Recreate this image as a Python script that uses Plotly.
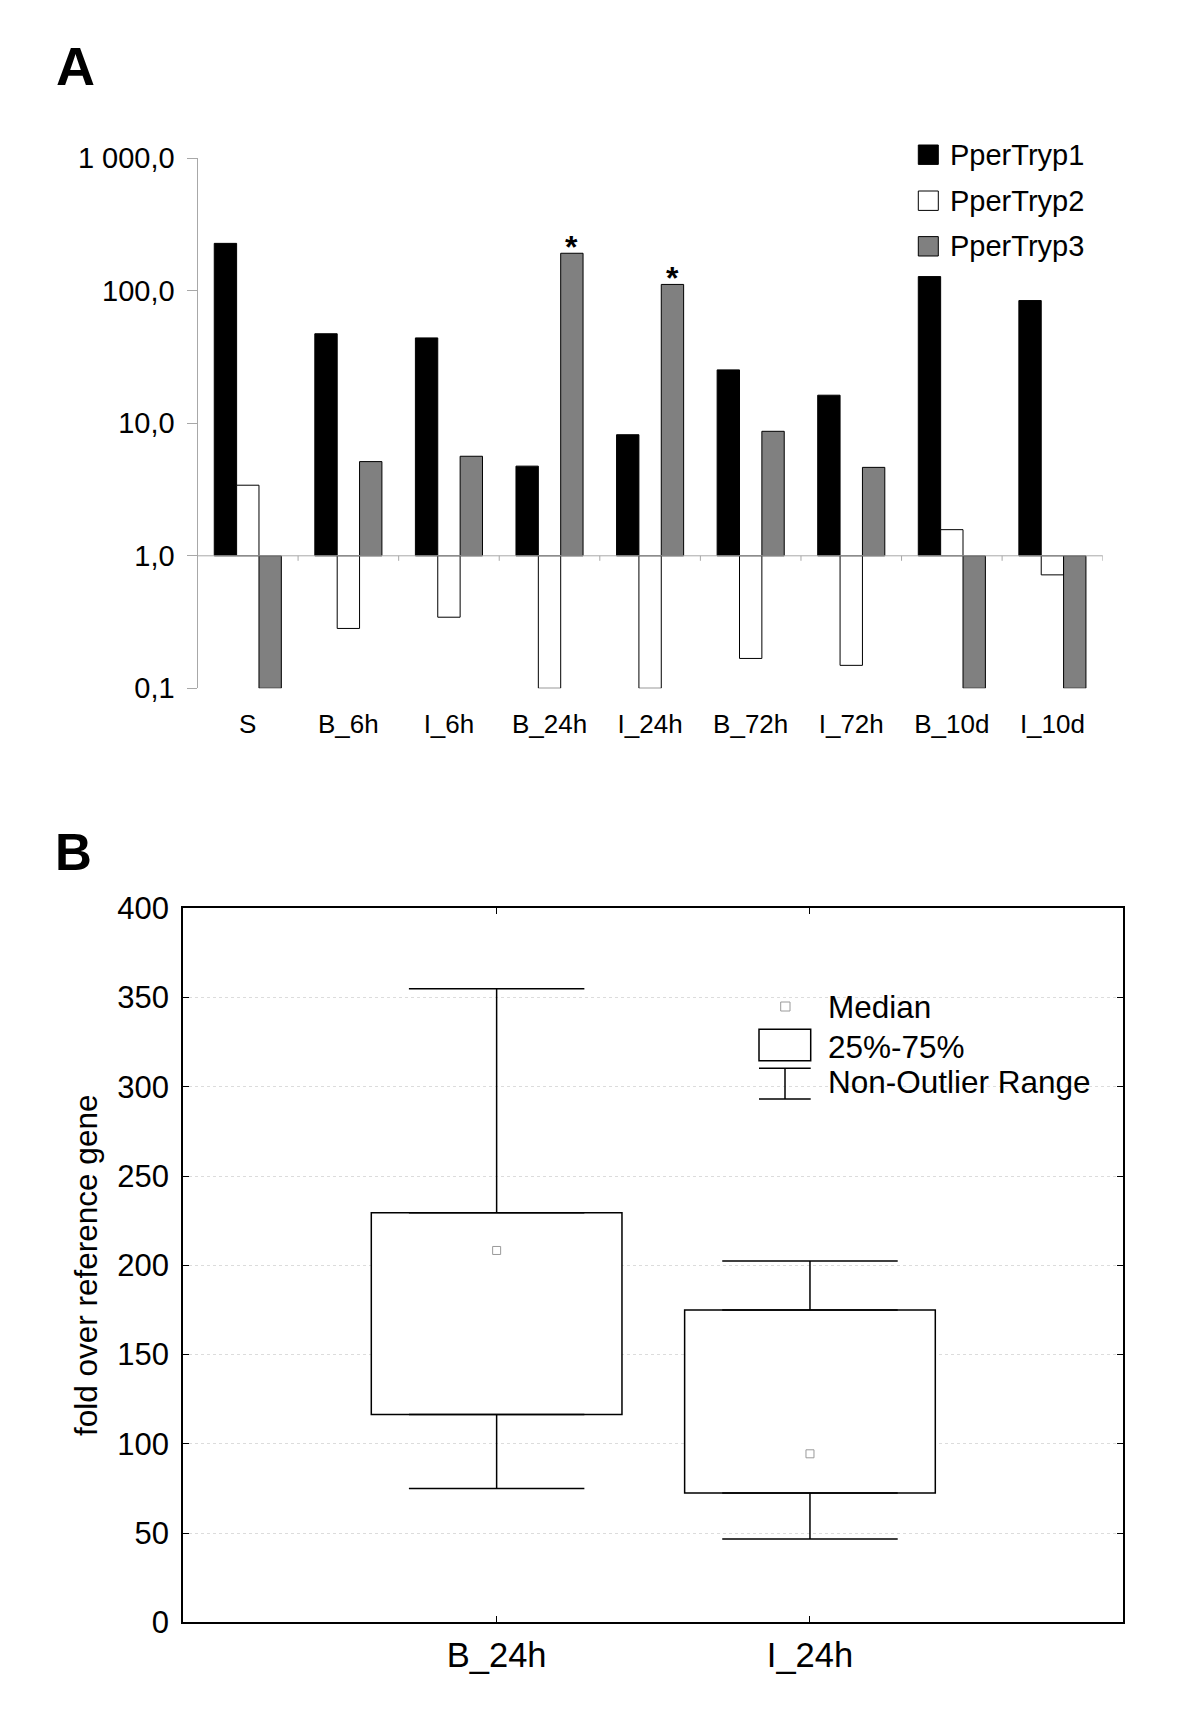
import math
import plotly.graph_objects as go

# ---------------- data: panel A ----------------
categories = ["S", "B_6h", "I_6h", "B_24h", "I_24h", "B_72h", "I_72h", "B_10d", "I_10d"]
series_names = ["PperTryp1", "PperTryp2", "PperTryp3"]
tryp1 = [228, 47.4, 44.1, 4.75, 8.2, 25.3, 16.3, 128, 84.4]
tryp2 = [3.41, 0.283, 0.344, 0.1, 0.1, 0.168, 0.149, 1.575, 0.718]
tryp3 = [0.1, 5.14, 5.64, 192, 111.7, 8.7, 4.65, 0.1, 0.1]
significant = ["B_24h", "I_24h"]          # asterisks over PperTryp3
a_tick_vals = [0.1, 1, 10, 100, 1000]
a_tick_text = ["0,1", "1,0", "10,0", "100,0", "1 000,0"]

# ---------------- data: panel B ----------------
box_groups = ["B_24h", "I_24h"]
box_lower = [75, 46.7]
box_q1 = [116.4, 72.5]
box_median = [208.3, 94.4]
box_q3 = [229.4, 175]
box_upper = [354.9, 202.4]
b_legend = ["Median", "25%-75%", "Non-Outlier Range"]

# ---------------- geometry / style ----------------
W, H = 1200, 1735
OFF = 8  # default page margin of the html body
FONT = "Liberation Sans, Arial, sans-serif"
GRAY_BAR = "#808080"
AXIS_GRAY = "#a8a8a8"


def px(x):
    return (x - OFF) / W


def py(y):
    return 1 - (y - OFF) / H


A_left, A_right, A_top, A_bot = 197.5, 1102.7, 158.3, 688.3
B_left, B_right, B_top, B_bot = 183.3, 1123.3, 908.3, 1622.3
A_range = [-1, 3]

fig = go.Figure()

colors = ["#000000", "#ffffff", GRAY_BAR]
for name, vals, col in zip(series_names, [tryp1, tryp2, tryp3], colors):
    fig.add_trace(go.Bar(
        x=categories, y=[v - 1 for v in vals], base=1,
        name=name, marker=dict(color=col, line=dict(color="black", width=1)),
        customdata=vals, hovertemplate="%{x}: %{customdata}<extra>" + name + "</extra>",
        xaxis="x", yaxis="y", showlegend=False,
    ))

# panel B: interquartile box
fig.add_trace(go.Bar(
    x=[0, 1], base=box_q1, y=[q3 - q1 for q1, q3 in zip(box_q1, box_q3)],
    width=0.8, marker=dict(color="white", line=dict(color="black", width=1.5)),
    xaxis="x2", yaxis="y2", showlegend=False, name="25%-75%",
))
B_unit_px = (B_right - B_left) / 3
cap_half = 0.7 * 0.8 * B_unit_px / 2
fig.add_trace(go.Scatter(
    x=[0, 1], y=box_q3, mode="markers", marker=dict(opacity=0, size=2),
    error_y=dict(type="data", symmetric=False,
                 array=[u - q for u, q in zip(box_upper, box_q3)], arrayminus=[0, 0],
                 width=cap_half, thickness=1.5, color="black"),
    xaxis="x2", yaxis="y2", showlegend=False, hoverinfo="skip",
))
fig.add_trace(go.Scatter(
    x=[0, 1], y=box_q1, mode="markers", marker=dict(opacity=0, size=2),
    error_y=dict(type="data", symmetric=False,
                 array=[0, 0], arrayminus=[q - l for q, l in zip(box_q1, box_lower)],
                 width=cap_half, thickness=1.5, color="black"),
    xaxis="x2", yaxis="y2", showlegend=False, hoverinfo="skip",
))
fig.add_trace(go.Scatter(
    x=[0, 1], y=box_median, mode="markers", name="Median",
    marker=dict(symbol="square", size=8, color="white", line=dict(color="#9a9a9a", width=1)),
    xaxis="x2", yaxis="y2", showlegend=False,
))

shapes = []
annotations = []

# baseline at value 1 in panel A, with boundary ticks
base_frac = (math.log10(1) - A_range[0]) / (A_range[1] - A_range[0])
shapes.append(dict(type="line", xref="x domain", yref="y domain", x0=0, x1=1,
                   y0=base_frac, y1=base_frac, line=dict(color=AXIS_GRAY, width=1)))
for i in range(len(categories) + 1):
    shapes.append(dict(type="line", xref="x", yref="y domain", x0=i - 0.5, x1=i - 0.5,
                       ysizemode="pixel", yanchor=base_frac, y0=0, y1=-5,
                       line=dict(color=AXIS_GRAY, width=1)))

# asterisks
bar_w_px = (A_right - A_left) / len(categories) * (1 - 0.333) / 3
for cat in significant:
    v = tryp3[categories.index(cat)]
    annotations.append(dict(x=cat, y=math.log10(v), xref="x", yref="y", text="<b>*</b>",
                            showarrow=False, xanchor="center", yanchor="bottom",
                            xshift=bar_w_px, yshift=-14,
                            font=dict(family=FONT, size=32, color="black")))

# legend A (manual)
rows_A = [154.7, 200.7, 246.3]
for name, col, ry in zip(series_names, colors, rows_A):
    shapes.append(dict(type="rect", xref="paper", yref="paper",
                       x0=px(918.3), x1=px(938.3), y0=py(ry + 9.7), y1=py(ry - 9.7),
                       fillcolor=col, line=dict(color="black", width=1)))
    annotations.append(dict(x=px(947.5), y=py(ry), xref="paper", yref="paper", text=name,
                            showarrow=False, xanchor="left", yanchor="middle",
                            font=dict(family=FONT, size=29, color="black")))

# legend B (manual)
shapes.append(dict(type="rect", xref="paper", yref="paper", x0=px(780.7), x1=px(790),
                   y0=py(1011), y1=py(1002), fillcolor="white",
                   line=dict(color="#9a9a9a", width=1)))
shapes.append(dict(type="rect", xref="paper", yref="paper", x0=px(759), x1=px(810.7),
                   y0=py(1060.7), y1=py(1029.3), fillcolor="white",
                   line=dict(color="black", width=1.5)))
for yy in (1068.3, 1099):
    shapes.append(dict(type="line", xref="paper", yref="paper", x0=px(759), x1=px(810.7),
                       y0=py(yy), y1=py(yy), line=dict(color="black", width=1.5)))
shapes.append(dict(type="line", xref="paper", yref="paper", x0=px(785), x1=px(785),
                   y0=py(1068.3), y1=py(1099), line=dict(color="black", width=1.5)))
for txt, ry in zip(b_legend, [1007, 1047, 1082]):
    annotations.append(dict(x=px(825.5), y=py(ry), xref="paper", yref="paper", text=txt,
                            showarrow=False, xanchor="left", yanchor="middle",
                            font=dict(family=FONT, size=31.5, color="black")))

# panel letters
annotations.append(dict(x=px(54), y=py(66.3), xref="paper", yref="paper", text="<b>A</b>",
                        showarrow=False, xanchor="left", yanchor="middle",
                        font=dict(family=FONT, size=54, color="black")))
annotations.append(dict(x=px(53), y=py(852), xref="paper", yref="paper", text="<b>B</b>",
                        showarrow=False, xanchor="left", yanchor="middle",
                        font=dict(family=FONT, size=51, color="black")))

fig.update_layout(
    template="none",
    width=W, height=H, margin=dict(l=0, r=0, t=0, b=0, pad=0, autoexpand=False),
    paper_bgcolor="white", plot_bgcolor="white",
    barmode="group", bargap=0.333, bargroupgap=0,
    showlegend=False, font=dict(family=FONT, color="black"),
    shapes=shapes, annotations=annotations,
    xaxis=dict(domain=[px(A_left), px(A_right)], anchor="y", type="category",
               range=[-0.5, len(categories) - 0.5], showline=False, ticks="",
               showgrid=False, zeroline=False, tickfont=dict(size=26),
               ticklabelstandoff=18, automargin=False),
    yaxis=dict(domain=[py(A_bot), py(A_top)], anchor="x", type="log", range=A_range,
               tickvals=a_tick_vals, ticktext=a_tick_text, ticks="outside", ticklen=10,
               tickcolor=AXIS_GRAY, showline=True, linecolor=AXIS_GRAY, linewidth=1,
               showgrid=False, zeroline=False, tickfont=dict(size=29),
               ticklabelstandoff=6, automargin=False),
    xaxis2=dict(domain=[px(B_left), px(B_right)], anchor="y2", range=[-1, 2],
                tickvals=[0, 1], ticktext=box_groups, ticks="inside", ticklen=6,
                tickcolor="black", mirror="ticks", showline=True, linecolor="black",
                linewidth=2, showgrid=False, zeroline=False, tickfont=dict(size=34.5),
                ticklabelstandoff=1, automargin=False),
    yaxis2=dict(domain=[py(B_bot), py(B_top)], anchor="x2", range=[0, 400], dtick=50,
                ticks="inside", ticklen=6, tickcolor="black", mirror="ticks",
                showline=True, linecolor="black", linewidth=2,
                showgrid=True, gridcolor="#dcdcdc", griddash="dot", gridwidth=1,
                zeroline=False, tickfont=dict(size=31), ticklabelstandoff=6,
                automargin=False,
                title=dict(text="fold over reference gene", font=dict(size=31.5), standoff=10)),
)

fig.write_html("out.html")
